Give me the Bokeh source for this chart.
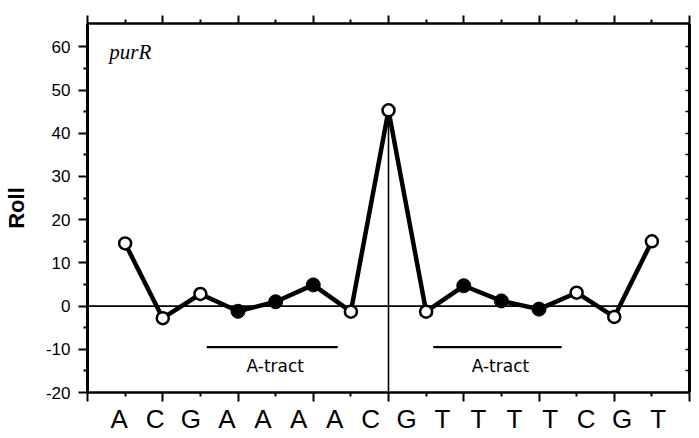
from bokeh.plotting import figure
from bokeh.models import (LinearAxis, FixedTicker, Range1d, Span, Label,
                          CustomJSTickFormatter)
from bokeh.embed import file_html
from bokeh.resources import INLINE

# ---- data ----
bases = ["A", "C", "G", "A", "A", "A", "A", "C", "G", "T", "T", "T", "T", "C", "G", "T"]
steps = list(range(1, 16))
roll = [14.5, -2.8, 2.8, -1.2, 1.0, 4.9, -1.3, 45.3, -1.3, 4.7, 1.2, -0.7, 3.1, -2.5, 15.0]
a_tract_step = [False, False, False, True, True, True, False, False, False,
                True, True, True, False, False, False]
y_ticks = [-20, -10, 0, 10, 20, 30, 40, 50, 60]
y_minor = [-15, -5, 5, 15, 25, 35, 45, 55]
tract_label = "A-tract"
tract_starts = [3.17, 9.19]
tract_ends = [6.65, 12.6]
gene = "purR"

FONT = "Liberation Sans"
Y_MIN, Y_MAX = -20, 65.4
X_MIN, X_MAX = 0, len(bases)

p = figure(width=691, height=436, output_backend="svg", toolbar_location=None,
           x_axis_location=None, y_axis_location=None,
           x_range=Range1d(X_MIN, X_MAX), y_range=Range1d(Y_MIN, Y_MAX),
           min_border_left=85, min_border_right=2, min_border_top=23,
           min_border_bottom=30)
p.outline_line_color = None
p.grid.visible = False
p.background_fill_color = "white"
p.border_fill_color = "white"

even = list(range(0, X_MAX + 1, 2))
odd = list(range(1, X_MAX, 2))
blank = CustomJSTickFormatter(code="return '';")


def tick_axis(ax, out_major, out_minor, lw):
    ax.axis_line_width = lw
    ax.axis_line_color = "black"
    ax.major_tick_out = out_major
    ax.major_tick_in = 0
    ax.minor_tick_out = out_minor
    ax.minor_tick_in = 0
    ax.major_tick_line_width = 2
    ax.minor_tick_line_width = 2
    ax.major_tick_line_color = "black"
    ax.minor_tick_line_color = "black"


def no_labels(ax):
    ax.formatter = blank
    ax.major_label_text_font_size = "1px"
    ax.major_label_standoff = 0


# bottom tick axis (no labels)
xb = LinearAxis(ticker=FixedTicker(ticks=even, minor_ticks=odd))
tick_axis(xb, 9, 4, 2.5)
no_labels(xb)
p.add_layout(xb, "below")

# bottom letter axis (sequence)
letter_pos = [0.84 + 0.955 * i for i in range(len(bases))]
xl = LinearAxis(ticker=FixedTicker(ticks=letter_pos, minor_ticks=[]))
xl.axis_line_color = None
xl.major_tick_line_color = None
xl.minor_tick_line_color = None
xl.major_tick_out = 0
xl.major_tick_in = 0
xl.major_label_standoff = 2
xl.major_label_overrides = {lp: b for lp, b in zip(letter_pos, bases)}
xl.major_label_text_font = FONT
xl.major_label_text_font_size = "26px"
xl.major_label_text_color = "black"
p.add_layout(xl, "below")

# top axis
xt = LinearAxis(ticker=FixedTicker(ticks=even, minor_ticks=odd))
tick_axis(xt, 8, 4, 2.5)
no_labels(xt)
p.add_layout(xt, "above")

# left axis
yl = LinearAxis(ticker=FixedTicker(ticks=y_ticks, minor_ticks=y_minor))
tick_axis(yl, 9, 4, 3)
yl.major_label_overrides = {t: str(t) for t in y_ticks}
yl.major_label_text_font = FONT
yl.major_label_text_font_size = "17px"
yl.major_label_text_color = "black"
yl.major_label_standoff = 8
yl.axis_label = "Roll"
yl.axis_label_text_font = FONT
yl.axis_label_text_font_size = "22px"
yl.axis_label_text_font_style = "bold"
yl.axis_label_text_color = "black"
yl.axis_label_standoff = 14
p.add_layout(yl, "left")

# right axis (inward ticks)
yr = LinearAxis(ticker=FixedTicker(ticks=y_ticks + y_minor, minor_ticks=[]))
yr.axis_line_width = 3
yr.major_tick_in = 4
yr.major_tick_out = 0
yr.major_tick_line_width = 1.5
no_labels(yr)
p.add_layout(yr, "right")

# zero line
p.add_layout(Span(location=0, dimension="width", line_color="black", line_width=1.6))

# vertical line at peak step
peak_i = max(range(len(roll)), key=lambda i: roll[i])
p.segment(x0=[steps[peak_i]], y0=[Y_MIN], x1=[steps[peak_i]], y1=[roll[peak_i]],
          line_color="black", line_width=1.6)

# A-tract bars
p.segment(x0=tract_starts, y0=[-9.5] * len(tract_starts), x1=tract_ends,
          y1=[-9.5] * len(tract_starts), line_color="black", line_width=2.2)
p.text(x=[(a + b) / 2 + 0.08 for a, b in zip(tract_starts, tract_ends)],
       y=[-13.8] * len(tract_starts), text=[tract_label] * len(tract_starts),
       text_font={"value": "DejaVu Sans"}, text_font_size={"value": "17px"},
       text_align="center", text_baseline="middle", text_color="black")

# main line
p.line(steps, roll, line_color="black", line_width=4.5)

open_x = [s for s, f in zip(steps, a_tract_step) if not f]
open_y = [r for r, f in zip(roll, a_tract_step) if not f]
fill_x = [s for s, f in zip(steps, a_tract_step) if f]
fill_y = [r for r, f in zip(roll, a_tract_step) if f]
p.scatter(open_x, open_y, marker="circle", size=12, fill_color="white",
          line_color="black", line_width=2.5)
p.scatter(fill_x, fill_y, marker="circle", size=14, fill_color="black",
          line_color="black", line_width=1)

# gene label
p.add_layout(Label(x=0.58, y=58.7, text=gene, text_font="Liberation Serif",
                   text_font_style="italic", text_font_size="21px",
                   text_baseline="middle", text_color="black"))

open("out.html", "w").write(file_html(p, INLINE))
